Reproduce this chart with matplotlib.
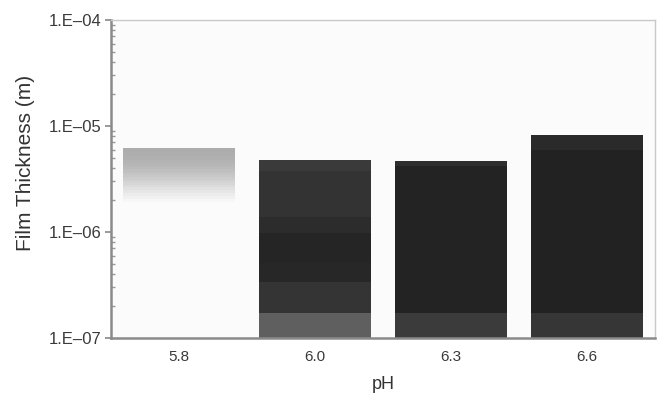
import matplotlib.pyplot as plt
import numpy as np

plt.rcParams['font.family'] = ['Liberation Sans', 'DejaVu Sans']

# categories (pH)
ph_labels = ['5.8', '6.0', '6.3', '6.6']

# each bar is a stack of shaded bands: edges in metres (bottom -> top) and grey level of each band
edges_58 = [1.9e-6, 2.05e-6, 2.2e-6, 2.35e-6, 2.5e-6, 2.65e-6, 2.8e-6, 2.95e-6, 3.1e-6, 3.3e-6,
            3.5e-6, 3.7e-6, 3.9e-6, 4.15e-6, 4.45e-6, 4.8e-6, 5.2e-6, 5.7e-6, 6.2e-6]
greys_58 = ['#f6f6f6', '#f1f1f1', '#ececec', '#e6e6e6', '#e1e1e1', '#dbdbdb', '#d6d6d6', '#d1d1d1',
            '#cccccc', '#c7c7c7', '#c2c2c2', '#bebebe', '#bababa', '#b6b6b6', '#b3b3b3', '#b0b0b0',
            '#aeaeae', '#adadad']

edges_60 = [1e-7, 1.72e-7, 3.4e-7, 5.1e-7, 9.8e-7, 1.39e-6, 3.8e-6, 4.8e-6]
greys_60 = ['#5f5f5f', '#343434', '#272727', '#252525', '#2c2c2c', '#333333', '#3a3a3a']

edges_63 = [1e-7, 1.72e-7, 4.2e-6, 4.65e-6]
greys_63 = ['#3b3b3b', '#232323', '#2e2e2e']

edges_66 = [1e-7, 1.72e-7, 5.9e-6, 8.2e-6]
greys_66 = ['#363636', '#222222', '#2a2a2a']

bars = [(edges_58, greys_58), (edges_60, greys_60), (edges_63, greys_63), (edges_66, greys_66)]

fig = plt.figure(figsize=(6.66, 4.04), dpi=100)
ax = fig.add_axes([0.1667, 0.1634, 0.8168, 0.7871])
ax.set_facecolor('#fbfbfb')

x = np.arange(len(ph_labels))
for xi, (edges, greys) in zip(x, bars):
    for lo, hi, g in zip(edges[:-1], edges[1:], greys):
        ax.bar(xi, hi - lo, bottom=lo, width=0.82, color=g, linewidth=0)

ax.set_yscale('log')
ax.set_ylim(1e-7, 1e-4)
ax.set_xlim(-0.5, 3.5)
ax.set_xticks(x)
ax.set_xticklabels(ph_labels)
ax.set_yticks([1e-7, 1e-6, 1e-5, 1e-4])
ax.set_yticklabels(['1.E\u201307', '1.E\u201306', '1.E\u201305', '1.E\u201304'])

ax.tick_params(axis='x', length=0, pad=9, labelsize=11, labelcolor='#3a3a3a')
ax.tick_params(axis='y', which='major', direction='out', length=4, width=1.2,
               color='#888888', labelsize=12, labelcolor='#3a3a3a', pad=3)
ax.tick_params(axis='y', which='minor', direction='in', length=3, width=1, color='#999999')

for s in ['left', 'bottom']:
    ax.spines[s].set_color('#8a8a8a')
    ax.spines[s].set_linewidth(1.8)
for s in ['top', 'right']:
    ax.spines[s].set_color('#c8c8c8')
    ax.spines[s].set_linewidth(1.0)

ax.set_xlabel('pH', fontsize=13, color='#333333', labelpad=8)
ax.set_ylabel('Film Thickness (m)', fontsize=15, color='#333333')
ax.yaxis.set_label_coords(-0.14, 0.55)

fig.savefig('out.png', dpi=100)
